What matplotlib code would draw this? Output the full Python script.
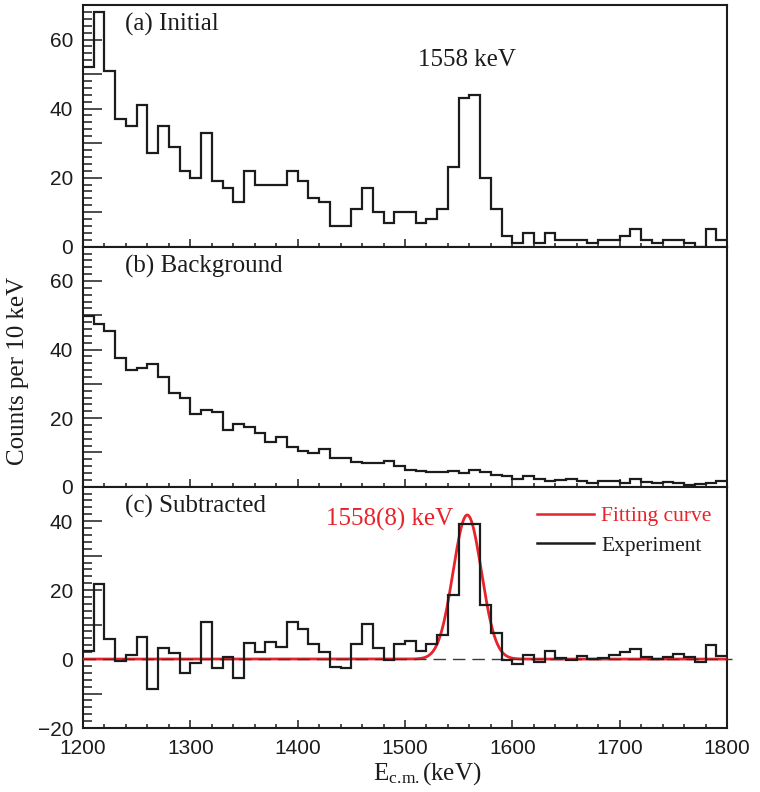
import numpy as np
import matplotlib
matplotlib.use("Agg")
import matplotlib.pyplot as plt
from matplotlib.ticker import MultipleLocator, FuncFormatter
from matplotlib.lines import Line2D

# ---------------- data (counts per 10 keV bin, bins start at 1200 keV) ----------------
bin_edges_keV = list(range(1200, 1810, 10))

initial_counts = [52, 68, 51, 37, 35, 41, 27, 35, 29, 22,
                  20, 33, 19, 17, 13, 22, 18, 18, 18, 22,
                  19, 14, 13, 6, 6, 11, 17, 10, 7, 10,
                  10, 7, 8, 11, 23, 43, 44, 20, 11, 3,
                  1, 4, 1, 4, 2, 2, 2, 1, 2, 2,
                  3, 5, 2, 1, 2, 2, 1, 0, 5, 2]

background_counts = [49.7, 47.4, 45.4, 37.6, 34.0, 34.7, 35.9, 32.0, 27.4, 25.9,
                     21.2, 22.3, 21.7, 16.5, 18.4, 17.5, 15.8, 13.1, 14.6, 11.7,
                     10.5, 9.9, 10.9, 8.3, 8.3, 7.3, 6.8, 6.8, 7.5, 6.0,
                     4.9, 4.5, 4.2, 4.2, 4.5, 4.1, 4.9, 4.2, 3.3, 3.0,
                     2.3, 3.0, 2.3, 1.7, 1.9, 2.3, 1.6, 1.2, 1.7, 1.7,
                     1.2, 2.1, 1.4, 1.0, 1.4, 1.0, 0.6, 0.8, 1.2, 1.6]

subtracted_counts = [2.4, 21.7, 5.8, -0.6, 1.2, 6.5, -8.8, 3.3, 1.9, -3.9,
                     -1.0, 10.8, -2.5, 0.7, -5.4, 4.7, 2.1, 5.0, 3.6, 10.8,
                     8.7, 4.3, 2.1, -2.2, -2.5, 4.3, 10.3, 3.3, -0.3, 4.3,
                     5.3, 2.4, 4.3, 7.0, 18.6, 39.3, 39.3, 15.8, 7.6, -0.3,
                     -1.4, 1.2, -0.8, 2.3, 0.4, -0.4, 0.9, 0.0, 0.4, 1.2,
                     2.1, 2.9, 0.7, 0.0, 0.7, 1.4, 0.7, -0.8, 4.1, 0.9]

# Gaussian fit parameters
fit_centroid_keV = 1558.0
fit_sigma_keV = 13.2
fit_amplitude = 41.8

panel_titles = ["(a) Initial", "(b) Background", "(c) Subtracted"]
x_ticks = [1200, 1300, 1400, 1500, 1600, 1700, 1800]

# ---------------- style ----------------
plt.rcParams["mathtext.fontset"] = "custom"
plt.rcParams["mathtext.rm"] = "Liberation Serif"
plt.rcParams["mathtext.it"] = "Liberation Serif:italic"
SERIF = "Liberation Serif"
SANS = "Liberation Sans"
BLACK = "#1c1c1c"
RED = "#e8232b"

W, H = 760, 792
fig = plt.figure(figsize=(W / 100, H / 100), dpi=100)

left_px, right_px = 83, 727
bounds_px = [5, 246.7, 486.7, 728]
axes = []
for i in range(3):
    top, bot = bounds_px[i], bounds_px[i + 1]
    ax = fig.add_axes([left_px / W, 1 - bot / H, (right_px - left_px) / W, (bot - top) / H],
                      sharex=axes[0] if axes else None)
    axes.append(ax)

edges = np.array(bin_edges_keV)
datasets = [initial_counts, background_counts, subtracted_counts]
ylims = [(0, 70), (0, 70), (-20, 50)]


def _fmt(v, p):
    r = int(round(v))
    if r % 20 != 0:
        return ""
    return f"\u2212{abs(r)}" if r < 0 else f"{r}"


label_fmt = FuncFormatter(_fmt)

for i, ax in enumerate(axes):
    ax.stairs(datasets[i], edges, baseline=None, color=BLACK, linewidth=1.6, zorder=4)
    ax.set_xlim(1200, 1800)
    ax.set_ylim(*ylims[i])
    for s in ax.spines.values():
        s.set_linewidth(1.5)
        s.set_color(BLACK)
    ax.xaxis.set_major_locator(MultipleLocator(100))
    ax.xaxis.set_minor_locator(MultipleLocator(20))
    ax.yaxis.set_major_locator(MultipleLocator(10))
    ax.yaxis.set_minor_locator(MultipleLocator(2))
    ax.yaxis.set_major_formatter(label_fmt)
    ax.tick_params(axis="both", which="both", direction="in", colors=BLACK,
                   top=False, right=False, width=1.1)
    ax.tick_params(axis="y", which="major", length=13.5, pad=7, labelsize=15)
    ax.tick_params(axis="y", which="minor", length=6.5)
    ax.tick_params(axis="x", which="major", length=6, pad=8, labelsize=15)
    ax.tick_params(axis="x", which="minor", length=3)
    for lab in ax.get_xticklabels() + ax.get_yticklabels():
        lab.set_family(SANS)
    if i < 2:
        ax.tick_params(axis="x", labelbottom=False)
    ax.text(0.065, 0.918, panel_titles[i], transform=ax.transAxes, family=SERIF,
            fontsize=18, va="center", ha="left", color=BLACK)

axes[2].set_xticks(x_ticks)
for lab in axes[2].get_xticklabels():
    lab.set_family(SANS)

# annotation in panel (a)
axes[0].text(fit_centroid_keV, 54.2, "1558 keV", family=SERIF, fontsize=18,
             ha="center", va="center", color=BLACK)

# fit curve in panel (c)
xf = np.linspace(1200, 1800, 1201)
yf = fit_amplitude * np.exp(-0.5 * ((xf - fit_centroid_keV) / fit_sigma_keV) ** 2)
axc = axes[2]
axc.plot(xf, yf, color=RED, linewidth=2.0, zorder=3)
axc.plot([1200, 1805], [0, 0], color="#3a3a3a", linewidth=1.0, dashes=(9, 5),
         zorder=3.5, clip_on=False)
axc.text(1545, 40.6, "1558(8) keV", family=SERIF, fontsize=18, color=RED,
         ha="right", va="center")

handles = [Line2D([], [], color=RED, linewidth=1.8), Line2D([], [], color=BLACK, linewidth=1.8)]
leg = axc.legend(handles, ["Fitting curve", "Experiment"], loc="upper left",
                 bbox_to_anchor=(0.705, 0.92), frameon=False, borderpad=0,
                 borderaxespad=0, handlelength=2.65, handletextpad=0.33,
                 labelspacing=0.45, prop={"family": SERIF, "size": 15.5})
leg.get_texts()[0].set_color(RED)
leg.get_texts()[1].set_color(BLACK)

# axis labels
fig.text(18 / W, 1 - 371 / H, "Counts per 10 keV", rotation=90, family=SERIF,
         fontsize=18, ha="center", va="center", color=BLACK)
fig.text(427 / W, 1 - 774 / H, r"E$_{\mathrm{c.\!m.}}$(keV)", family=SERIF,
         fontsize=18, ha="center", va="center", color=BLACK)

fig.savefig("out.png", dpi=100)
